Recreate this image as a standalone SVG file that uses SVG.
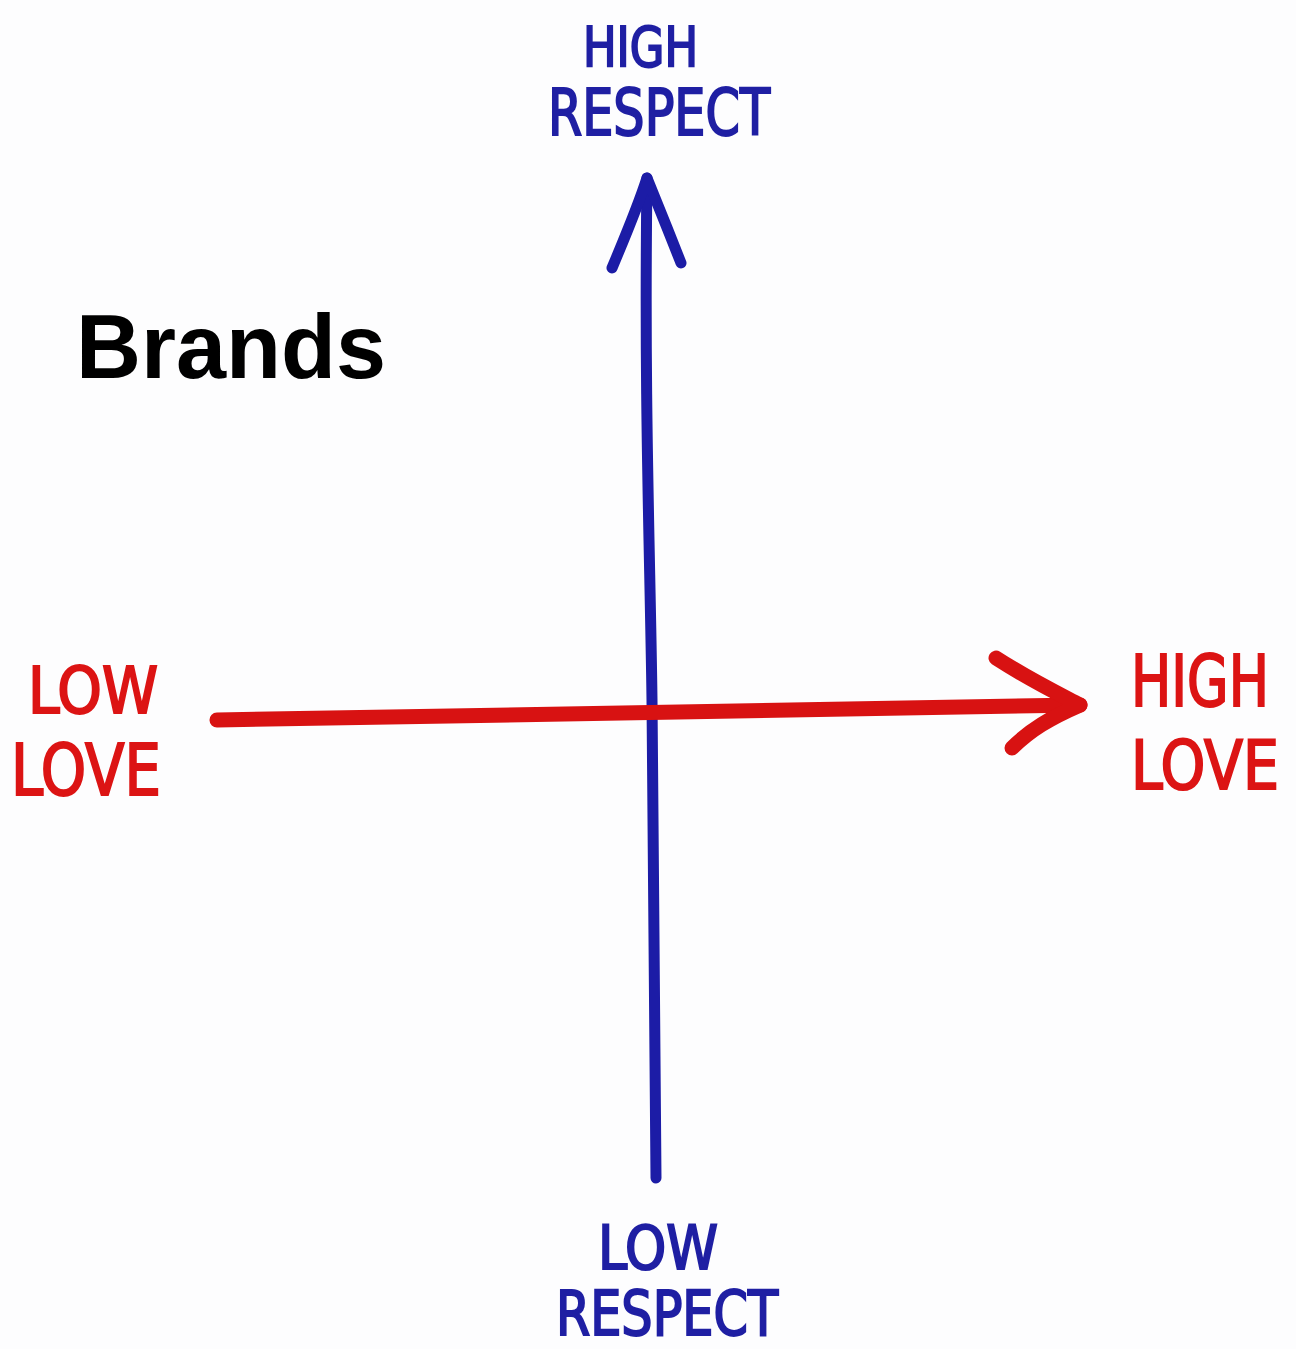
<svg xmlns="http://www.w3.org/2000/svg" width="1296" height="1349" viewBox="0 0 1296 1349">
<style>
.blue{fill:#1f1fa3;stroke:#1f1fa3;stroke-width:2;font-family:"DejaVu Sans Condensed","DejaVu Sans",sans-serif;font-weight:normal}
.red{fill:#dc1414;stroke:#dc1414;stroke-width:2;font-family:"DejaVu Sans Condensed","DejaVu Sans",sans-serif;font-weight:normal}
.title{fill:#000;font-family:"Liberation Sans",Arial,sans-serif;font-weight:bold;font-size:90px}
.vline{fill:none;stroke:#1c1ca6;stroke-width:11;stroke-linecap:round;stroke-linejoin:round}
.hline{fill:none;stroke:#d81212;stroke-width:15;stroke-linecap:round;stroke-linejoin:round}
</style>
<rect width="1296" height="1349" fill="#fdfdfe"/>
<g id="connectors">
<path class="vline" d="M656,1178 C655,1000 654,850 652,700 C650,550 644,400 647,178"/>
<path class="vline" d="M612,268 C628,230 640,200 647,178 C658,205 670,235 681,263"/>
<path class="hline" d="M217,720 C450,715 700,710 1080,705"/>
<path class="hline" d="M996,658 C1030,680 1055,692 1080,705 C1050,718 1030,730 1012,748"/>
</g>
<g id="title"><text class="title" x="76" y="378">Brands</text></g>
<g id="high-respect">
<text class="blue" x="583" y="66" font-size="56" textLength="115" lengthAdjust="spacingAndGlyphs">HIGH</text>
<text class="blue" x="548" y="135" font-size="64" textLength="222" lengthAdjust="spacingAndGlyphs">RESPECT</text>
</g>
<g id="low-respect">
<text class="blue" x="598" y="1269" font-size="60" textLength="120" lengthAdjust="spacingAndGlyphs">LOW</text>
<text class="blue" x="556" y="1335" font-size="62" textLength="222" lengthAdjust="spacingAndGlyphs">RESPECT</text>
</g>
<g id="low-love">
<text class="red" x="28" y="713" font-size="64" textLength="130" lengthAdjust="spacingAndGlyphs">LOW</text>
<text class="red" x="11" y="795" font-size="72" textLength="150" lengthAdjust="spacingAndGlyphs">LOVE</text>
</g>
<g id="high-love">
<text class="red" x="1131" y="706" font-size="72" textLength="138" lengthAdjust="spacingAndGlyphs">HIGH</text>
<text class="red" x="1131" y="789" font-size="68" textLength="148" lengthAdjust="spacingAndGlyphs">LOVE</text>
</g>
</svg>
